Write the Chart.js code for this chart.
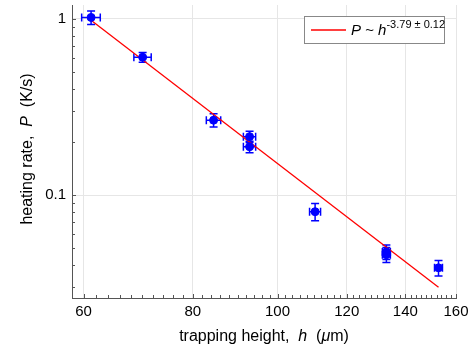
<!DOCTYPE html>
<html>
<head>
<meta charset="utf-8">
<script src="https://cdn.jsdelivr.net/npm/chart.js@4/dist/chart.umd.min.js"></script>
<style>
body { margin: 0; background: #fff; }
#wrap { width: 473px; height: 350px; }
</style>
</head>
<body>
<div id="wrap"><canvas id="myChart" width="473" height="350"></canvas></div>
<script>
// measured points: trapping height h (um) and heating rate P (K/s)
var heights = [61.2, 70.1, 84.5, 92.9, 92.9, 110.4, 133.2, 133.2, 152.8];
var rates = [1.02, 0.606, 0.266, 0.2145, 0.188, 0.0804, 0.0475, 0.0458, 0.0386];
var heightErr = [1.5, 1.6, 1.6, 1.5, 1.5, 1.6, 1.4, 1.4, 1.6];
var rateErr = [0.09, 0.038, 0.023, 0.0155, 0.014, 0.009, 0.0045, 0.0045, 0.0039];

// fitted power law, end points
var fitH = [61.3, 152.8];
var fitP = [0.978, 0.0299];

var xTickLabels = [60, 80, 100, 120, 140, 160];
var yTickLabels = [0.1, 1];
var yMinorTicks = [0.03, 0.04, 0.05, 0.06, 0.07, 0.08, 0.09, 0.2, 0.3, 0.4, 0.5, 0.6, 0.7, 0.8, 0.9];

var xTicks = [];
for (var v = 60; v <= 160; v += 2) xTicks.push(v);
var yTicks = yMinorTicks.concat(yTickLabels).sort(function (a, b) { return a - b; });

var FONT = "'Liberation Sans', Arial, sans-serif";
var BLUE = "rgb(0, 0, 255)";

var isMajorX = function (v) { return xTickLabels.indexOf(v) >= 0; };
var isMajorY = function (v) { return yTickLabels.indexOf(v) >= 0; };

var pointData = heights.map(function (h, i) { return { x: h, y: rates[i] }; });
var fitData = fitH.map(function (h, i) { return { x: h, y: fitP[i] }; });

var errorBars = {
    id: "errorBars",
    beforeDatasetsDraw: function (chart) {
        var ctx = chart.ctx, xs = chart.scales.x, ys = chart.scales.y;
        ctx.save();
        ctx.strokeStyle = BLUE;
        ctx.lineWidth = 1.5;
        for (var i = 0; i < heights.length; i++) {
            var px = xs.getPixelForValue(heights[i]);
            var py = ys.getPixelForValue(rates[i]);
            var x1 = xs.getPixelForValue(heights[i] - heightErr[i]);
            var x2 = xs.getPixelForValue(heights[i] + heightErr[i]);
            var y1 = ys.getPixelForValue(rates[i] - rateErr[i]);
            var y2 = ys.getPixelForValue(rates[i] + rateErr[i]);
            ctx.beginPath();
            ctx.moveTo(x1, py); ctx.lineTo(x2, py);
            ctx.moveTo(x1, py - 4); ctx.lineTo(x1, py + 4);
            ctx.moveTo(x2, py - 4); ctx.lineTo(x2, py + 4);
            ctx.moveTo(px, y1); ctx.lineTo(px, y2);
            ctx.moveTo(px - 4, y1); ctx.lineTo(px + 4, y1);
            ctx.moveTo(px - 4, y2); ctx.lineTo(px + 4, y2);
            ctx.stroke();
        }
        ctx.restore();
    }
};

// draws text pieces one after another, [text, italic, size, dy]
var drawPieces = function (ctx, pieces, x, y) {
    var cx = x;
    pieces.forEach(function (p) {
        ctx.font = (p[1] ? "italic " : "") + p[2] + "px " + FONT;
        ctx.fillText(p[0], cx, y + (p[3] || 0));
        cx += ctx.measureText(p[0]).width;
    });
};
var piecesWidth = function (ctx, pieces) {
    var w = 0;
    pieces.forEach(function (p) {
        ctx.font = (p[1] ? "italic " : "") + p[2] + "px " + FONT;
        w += ctx.measureText(p[0]).width;
    });
    return w;
};

var decorations = {
    id: "decorations",
    afterDraw: function (chart) {
        var ctx = chart.ctx, xs = chart.scales.x, ys = chart.scales.y;
        var area = chart.chartArea;
        ctx.save();

        // inward tick marks
        ctx.strokeStyle = "#555";
        ctx.lineWidth = 1;
        ctx.beginPath();
        xs.ticks.forEach(function (t) {
            var px = Math.round(xs.getPixelForValue(t.value)) + 0.5;
            var len = isMajorX(t.value) ? 4 : 3;
            ctx.moveTo(px, area.bottom);
            ctx.lineTo(px, area.bottom - len);
        });
        ys.ticks.forEach(function (t) {
            var py = Math.round(ys.getPixelForValue(t.value)) + 0.5;
            var len = isMajorY(t.value) ? 4 : 3;
            ctx.moveTo(area.left, py);
            ctx.lineTo(area.left + len, py);
        });
        ctx.stroke();

        // axis titles
        ctx.fillStyle = "#000";
        ctx.textBaseline = "alphabetic";
        ctx.textAlign = "left";
        var xt = [["trapping height,  ", false, 16], ["h", true, 16], ["  (", false, 16], ["\u03bc", true, 16], ["m)", false, 16]];
        var w = piecesWidth(ctx, xt);
        drawPieces(ctx, xt, 264 - w / 2, 341);

        var yt = [["heating rate,  ", false, 16], ["P", true, 16], ["  (K/s)", false, 16]];
        w = piecesWidth(ctx, yt);
        ctx.save();
        ctx.translate(32, 149);
        ctx.rotate(-Math.PI / 2);
        drawPieces(ctx, yt, -w / 2, 0);
        ctx.restore();

        // legend
        ctx.fillStyle = "#fff";
        ctx.fillRect(304.5, 16.5, 140, 27);
        ctx.strokeStyle = "#888";
        ctx.strokeRect(304.5, 16.5, 140, 27);
        ctx.strokeStyle = "rgb(255, 0, 0)";
        ctx.lineWidth = 1.3;
        ctx.beginPath();
        ctx.moveTo(311, 30);
        ctx.lineTo(346, 30);
        ctx.stroke();
        ctx.fillStyle = "#000";
        drawPieces(ctx, [["P", true, 15], [" ~ ", false, 15], ["h", true, 15], ["-3.79 \u00b1 0.12", false, 11, -7]], 351, 35);

        ctx.restore();
    }
};

var myChart = document.getElementById("myChart").getContext("2d");
var chart = new Chart(myChart, {
    type: "scatter",
    data: {
        datasets: [
            {
                label: "fit",
                type: "line",
                data: fitData,
                borderColor: "rgb(255, 0, 0)",
                borderWidth: 1.3,
                pointRadius: 0,
                fill: false,
                order: 2,
            },
            {
                label: "data",
                data: pointData,
                backgroundColor: BLUE,
                borderColor: BLUE,
                pointRadius: 4,
                pointHoverRadius: 4,
                order: 1,
            },
        ],
    },
    options: {
        responsive: false,
        animation: false,
        events: [],
        layout: { padding: { top: 5, right: 17, left: 0, bottom: 0 } },
        plugins: { legend: { display: false }, tooltip: { enabled: false } },
        scales: {
            x: {
                type: "logarithmic",
                bounds: "data",
                min: 58.2,
                max: 160,
                afterBuildTicks: function (s) {
                    s.ticks = xTicks.map(function (v) { return { value: v }; });
                },
                afterFit: function (s) {
                    s.height = 52;
                    s.paddingLeft = 0;
                    s.paddingRight = 0;
                },
                ticks: {
                    autoSkip: false,
                    maxRotation: 0,
                    padding: 5,
                    color: "#000",
                    font: { family: FONT, size: 15 },
                    callback: function (v) { return isMajorX(v) ? String(v) : ""; },
                },
                grid: {
                    drawTicks: false,
                    color: function (c) { return c.tick && isMajorX(c.tick.value) ? "#e6e6e6" : "rgba(0,0,0,0)"; },
                },
                border: { color: "#555", width: 1 },
            },
            y: {
                type: "logarithmic",
                bounds: "data",
                min: 0.026,
                max: 1.2,
                afterBuildTicks: function (s) {
                    s.ticks = yTicks.map(function (v) { return { value: v }; });
                },
                afterFit: function (s) {
                    s.width = 72;
                    s.paddingTop = 0;
                    s.paddingBottom = 0;
                },
                ticks: {
                    autoSkip: false,
                    padding: 6,
                    color: "#000",
                    font: { family: FONT, size: 15 },
                    callback: function (v) { return isMajorY(v) ? String(v) : ""; },
                },
                grid: {
                    drawTicks: false,
                    color: function (c) { return c.tick && isMajorY(c.tick.value) ? "#e6e6e6" : "rgba(0,0,0,0)"; },
                },
                border: { color: "#555", width: 1 },
            },
        },
    },
    plugins: [errorBars, decorations],
});
</script>
</body>
</html>
